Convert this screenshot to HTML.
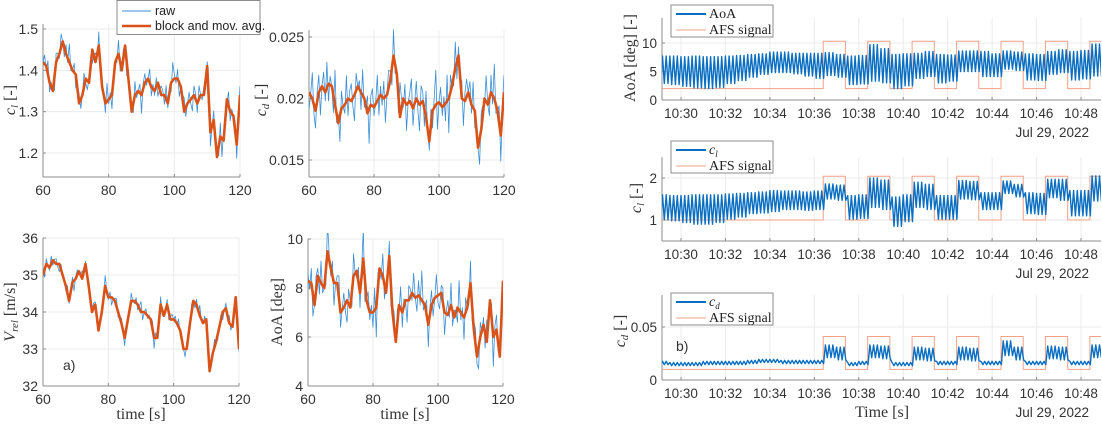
<!DOCTYPE html>
<html><head><meta charset="utf-8">
<style>
html,body{margin:0;padding:0;background:#fff;}
svg{display:block;}
.tk{font-family:"Liberation Sans",sans-serif;font-size:14px;fill:#333;}
.tkr{font-family:"Liberation Sans",sans-serif;font-size:13.5px;fill:#333;}
.lx{font-family:"Liberation Serif",serif;font-size:16px;fill:#333;}
.lg{font-family:"Liberation Serif",serif;font-size:14px;fill:#222;}
.lgs{font-family:"Liberation Sans",sans-serif;font-size:12.5px;fill:#222;}
</style></head>
<body>
<svg id="fig" width="1102" height="426" viewBox="0 0 1102 426" xmlns="http://www.w3.org/2000/svg"></svg>
<script>
// ---------- panel a) data (t = 60..120 s, 1 s steps) ----------
const timeA = [60,61,62,63,64,65,66,67,68,69,70,71,72,73,74,75,76,77,78,79,80,81,82,83,84,85,86,87,88,89,90,91,92,93,94,95,96,97,98,99,100,101,102,103,104,105,106,107,108,109,110,111,112,113,114,115,116,117,118,119,120];
const clAvg = [1.42,1.41,1.37,1.35,1.42,1.44,1.47,1.44,1.42,1.40,1.39,1.32,1.34,1.38,1.37,1.45,1.42,1.46,1.36,1.32,1.33,1.34,1.42,1.44,1.40,1.46,1.38,1.30,1.34,1.35,1.34,1.37,1.38,1.36,1.35,1.37,1.34,1.34,1.32,1.37,1.38,1.38,1.36,1.30,1.32,1.33,1.34,1.32,1.34,1.34,1.41,1.25,1.28,1.19,1.24,1.23,1.33,1.30,1.29,1.22,1.34];
const cdAvg = [0.0205,0.0200,0.0190,0.0205,0.0210,0.0205,0.0212,0.0210,0.0195,0.0180,0.0192,0.0195,0.0200,0.0198,0.0203,0.0210,0.0205,0.0200,0.0188,0.0195,0.0193,0.0198,0.0203,0.0200,0.0203,0.0215,0.0235,0.0220,0.0185,0.0200,0.0195,0.0198,0.0192,0.0200,0.0195,0.0198,0.0185,0.0165,0.0190,0.0195,0.0197,0.0193,0.0196,0.0200,0.0210,0.0225,0.0235,0.0200,0.0198,0.0205,0.0195,0.0190,0.0160,0.0175,0.0200,0.0195,0.0205,0.0200,0.0190,0.0170,0.0205];
const vrelAvg = [35.0,35.3,35.2,35.4,35.3,35.3,35.0,34.7,34.3,34.8,34.9,35.1,34.9,35.3,34.7,34.0,34.2,33.5,34.0,34.7,34.4,34.4,34.3,34.0,33.7,33.3,33.8,34.3,34.3,34.2,34.0,34.0,33.9,33.8,33.3,33.3,34.2,33.9,34.2,33.8,33.8,33.7,33.5,33.0,33.0,33.7,34.3,34.2,33.9,33.7,33.8,32.4,32.9,33.2,33.6,34.0,34.1,33.7,33.6,34.4,33.0];
const aoaAvg = [8.3,8.2,7.3,8.5,8.2,8.0,9.5,8.8,8.2,8.2,7.0,7.2,7.5,7.2,8.5,8.7,7.8,9.2,7.5,7.0,7.0,7.2,8.8,8.5,7.8,9.3,7.0,5.8,7.3,7.0,7.5,7.5,7.8,7.6,7.7,7.5,7.3,6.5,7.3,7.6,7.7,7.8,7.0,6.9,7.3,6.8,7.2,7.0,6.8,7.2,8.2,6.3,5.2,6.0,6.5,5.8,7.5,6.0,6.3,5.2,8.3];
// raw-minus-average deviations (0.5 s steps), in panel units
const rawDev = [0,2,-1,3,-2,1,0,-3,2,1,-1,3,0,-2,2,-1,4,-1,0,2,-3,1,2,-2,0,3,-1,-2,1,2,-3,0,2,-1,3,-2,1,0,-2,4,-1,1,-3,2,0,-1,3,-2,1,2,-1,-3,2,0,1,-2,3,-1,0,2,-4,1,2,-1,0,3,-2,1,-1,2,-3,0,2,1,-2,3,-1,0,-2,4,1,-1,2,-3,0,1,3,-2,0,2,-1,-3,2,1,-2,3,0,-1,2,-2,1,4,-3,0,2,-1,1,-2,3,-4,2,0,-1,3,-2,1,0,2,-3,1,2];

// ---------- panel b) data (minutes after 10:00, 30 s segments from 10:29) ----------
const segStart = 29.0;
const aoaMean = [5.3,5.2,5.0,4.9,4.8,4.9,5.3,5.6,6.0,6.3,6.6,6.6,6.4,6.2,6.0,6.3,6.0,5.2,5.3,6.5,6.0,5.0,5.3,6.0,6.3,5.5,5.6,6.8,6.8,6.3,6.1,7.0,6.8,5.8,5.7,6.5,6.8,6.0,6.2,7.0];
const aoaAmp = [2.4,2.5,2.6,2.8,2.8,2.7,2.4,2.2,2.0,1.8,1.8,1.8,1.8,2.0,2.2,2.0,2.0,2.5,2.5,3.2,3.0,3.0,2.8,2.2,2.2,2.5,2.3,1.8,1.8,2.2,2.0,1.6,1.6,2.3,2.3,2.0,2.0,2.5,2.5,2.8];
const clMean = [1.30,1.28,1.26,1.25,1.25,1.27,1.32,1.35,1.40,1.42,1.45,1.47,1.47,1.45,1.47,1.68,1.65,1.30,1.32,1.65,1.60,1.20,1.28,1.60,1.55,1.30,1.30,1.72,1.70,1.45,1.45,1.78,1.70,1.40,1.38,1.75,1.72,1.40,1.40,1.75];
const clAmp = [0.30,0.30,0.32,0.35,0.35,0.33,0.30,0.28,0.25,0.25,0.25,0.22,0.22,0.22,0.22,0.18,0.18,0.28,0.28,0.35,0.35,0.35,0.32,0.30,0.30,0.28,0.28,0.22,0.22,0.20,0.20,0.15,0.15,0.25,0.25,0.22,0.25,0.30,0.30,0.30];
const cdMean = [0.016,0.015,0.015,0.015,0.016,0.016,0.016,0.016,0.017,0.018,0.018,0.017,0.017,0.017,0.017,0.027,0.025,0.015,0.016,0.027,0.026,0.015,0.015,0.025,0.024,0.016,0.016,0.025,0.024,0.016,0.016,0.030,0.025,0.016,0.016,0.026,0.025,0.016,0.016,0.027];
const cdAmp = [0.0015,0.0015,0.0015,0.0015,0.0015,0.0015,0.0015,0.0015,0.0015,0.0015,0.0015,0.0015,0.0015,0.0015,0.0015,0.006,0.006,0.0015,0.0015,0.006,0.006,0.0015,0.0015,0.006,0.006,0.0015,0.0015,0.006,0.006,0.0015,0.0015,0.007,0.006,0.0015,0.0015,0.006,0.006,0.0015,0.0015,0.006];
const afsOn = [36.4,38.4,40.4,42.4,44.4,46.4,48.4];
const afsOff = [37.4,39.4,41.4,43.4,45.4,47.4,49.0];
const timeTicks = [30,32,34,36,38,40,42,44,46,48];
const timeTickLabels = ["10:30","10:32","10:34","10:36","10:38","10:40","10:42","10:44","10:46","10:48"];

const NS = "http://www.w3.org/2000/svg";
const fig = document.getElementById('fig');
function mk(tag, attrs, parent){const e=document.createElementNS(NS,tag);for(const k in attrs)e.setAttribute(k,attrs[k]);(parent||fig).appendChild(e);return e;}
function lin(d0,d1,r0,r1){return v=>r0+(v-d0)*(r1-r0)/(d1-d0);}

let clipN=0;
function axes(name, x0,x1,yTop,yBot, xs, ys, xticks, xlabels, yticks, ylabels, cls){
  const g = mk('g',{});
  
  
  xticks.forEach(t=>{const l=mk('line',{x1:xs(t),x2:xs(t),y1:yTop,y2:yBot,stroke:'#ebebeb','stroke-width':1},g);
    
    });
  yticks.forEach(t=>{const l=mk('line',{x1:x0,x2:x1,y1:ys(t),y2:ys(t),stroke:'#ebebeb','stroke-width':1},g);
    
    });
  const ax=mk('line',{x1:x0,x2:x1,y1:yBot,y2:yBot,stroke:'#8c8c8c','stroke-width':1},g);
  
  
  const ay=mk('line',{x1:x0,x2:x0,y1:yTop,y2:yBot,stroke:'#8c8c8c','stroke-width':1},g);
  
  
  xticks.forEach((t,i)=>{
    mk('line',{x1:xs(t),x2:xs(t),y1:yBot,y2:yBot-3,stroke:'#8c8c8c'},g);
    const tx=mk('text',{x:xs(t),y:yBot+18,'text-anchor':'middle',class:cls},g);
    tx.textContent=xlabels[i];
    
    
  });
  yticks.forEach((t,i)=>{
    mk('line',{x1:x0,x2:x0+3,y1:ys(t),y2:ys(t),stroke:'#8c8c8c'},g);
    const tx=mk('text',{x:x0-5,y:ys(t)+5,'text-anchor':'end',class:cls},g);
    tx.textContent=ylabels[i];
    
    
  });
  clipN++;
  const cp=mk('clipPath',{id:'c'+clipN});
  mk('rect',{x:x0,y:yTop-6,width:x1-x0,height:yBot-yTop+6},cp);
  return mk('g',{'clip-path':'url(#c'+clipN+')'},g);
}
function path(g,pts,stroke,w,name){
  const p=mk('path',{d:'M'+pts.map(p=>p[0].toFixed(1)+','+p[1].toFixed(1)).join('L'),fill:'none',stroke:stroke,'stroke-width':w,'stroke-linejoin':'round'},g);
  
  
  return p;
}
function ylabel(x,y,html,name){
  const t=mk('text',{x:0,y:0,transform:`translate(${x},${y}) rotate(-90)`,'text-anchor':'middle',class:'lx'});
  t.innerHTML=html;
  
  
}
function txt(x,y,s,cls,anchor,name,extra){
  const t=mk('text',Object.assign({x:x,y:y,class:cls,'text-anchor':anchor||'start'},extra||{}));
  t.innerHTML=s;
  
  
  return t;
}

// ---------- panel a) ----------
function panelA(name,x0,x1,yTop,yBot,v0,y0,v1,y1,yt,ytl,avg,unit,shift){
  const xs=lin(60,120,x0,x1), ys=lin(v0,v1,y0,y1);
  const g=axes(name,x0,x1,yTop,yBot,xs,ys,[60,80,100,120],["60","80","100","120"],yt,ytl,'tk');
  const raw=[];
  for(let i=0;i<timeA.length;i++){
    const d1=rawDev[(2*i+shift)%rawDev.length];
    raw.push([xs(timeA[i]),ys(avg[i]+d1*unit)]);
    if(i<timeA.length-1){
      const d2=rawDev[(2*i+1+shift)%rawDev.length];
      raw.push([xs(timeA[i]+0.5),ys((avg[i]+avg[i+1])/2+d2*unit)]);
    }
  }
  path(g,raw,'#3b8fd6',0.8,'raw-series');
  path(g,timeA.map((t,i)=>[xs(t),ys(avg[i])]),'#d95319',2.6,'avg-series');
}
panelA('cl-time-chart',43,240,24,177,1.5,29,1.2,153,[1.2,1.3,1.4,1.5],["1.2","1.3","1.4","1.5"],clAvg,0.011,0);
panelA('cd-time-chart',309,504,30,177,0.025,37,0.015,160,[0.015,0.02,0.025],["0.015","0.02","0.025"],cdAvg,0.0007,23);
panelA('vrel-time-chart',43,239,238,386,36,238,32,386,[32,33,34,35,36],["32","33","34","35","36"],vrelAvg,0.07,41);
panelA('aoa-time-chart',308,503,239,386,10,239,4,386,[4,6,8,10],["4","6","8","10"],aoaAvg,0.3,67);

ylabel(15,100,'<tspan font-style="italic">c</tspan><tspan font-style="italic" font-size="11" dy="3">l</tspan><tspan dy="-3"> [-]</tspan>','cl-y-axis-title');
ylabel(266,100,'<tspan font-style="italic">c</tspan><tspan font-style="italic" font-size="11" dy="3">d</tspan><tspan dy="-3"> [-]</tspan>','cd-y-axis-title');
ylabel(15,312,'<tspan font-style="italic">V</tspan><tspan font-style="italic" font-size="11" dy="3">rel</tspan><tspan dy="-3"> [m/s]</tspan>','vrel-y-axis-title');
ylabel(282,312,'AoA [deg]','aoa-y-axis-title');
txt(141,419,'time [s]','lx','middle','x-axis-title-left');
txt(405,419,'time [s]','lx','middle','x-axis-title-right');
txt(63,370,'a)','tk','start','panel-label-a',{'font-size':'18'});

// legend a
(function(){
  const g=mk('g',{});
  
  
  mk('rect',{x:117,y:0.5,width:143,height:34,fill:'#fff',stroke:'#8c8c8c','stroke-width':1},g);
  mk('line',{x1:122,x2:151,y1:11,y2:11,stroke:'#3b8fd6','stroke-width':1},g);
  mk('line',{x1:122,x2:151,y1:26,y2:26,stroke:'#d95319','stroke-width':2.6},g);
  const t1=mk('text',{x:155,y:15,class:'lgs'},g);t1.textContent='raw';
  const t2=mk('text',{x:155,y:30,class:'lgs'},g);t2.textContent='block and mov. avg.';
})();

// ---------- panel b) ----------
const xsB=lin(30,48,681,1081);
function panelB(name,yTop,yBot,v0,y0,v1,y1,yt,ytl,mean,amp,lo,hi,legTop,legLabel){
  const ys=lin(v0,v1,y0,y1);
  const g=axes(name,662,1101,yTop,yBot,xsB,ys,timeTicks,timeTickLabels,yt,ytl,'tkr');
  const afs=[[xsB(segStart),ys(lo)]];
  afsOn.forEach((on,i)=>{
    afs.push([xsB(on),ys(lo)],[xsB(on),ys(hi)],[xsB(afsOff[i]),ys(hi)],[xsB(afsOff[i]),ys(lo)]);
  });
  path(g,afs,'#f3a086',1,'afs-signal');
  const pts=[];
  const n=mean.length*6;
  for(let k=0;k<=n;k++){
    const s=Math.min(Math.floor(k/6),mean.length-1);
    const sign=(k%2===0)?1:-1;
    pts.push([xsB(segStart+k/12),ys(mean[s]+sign*amp[s])]);
  }
  path(g,pts,'#0a6fc2',1.4,'measured-signal');
  txt(1089,yBot+37,'Jul 29, 2022','tkr','end','date-label');
  const lg=mk('g',{});
  
  
  mk('rect',{x:671,y:legTop,width:102,height:32,fill:'#fff',stroke:'#8c8c8c'},lg);
  mk('line',{x1:676,x2:706,y1:legTop+9,y2:legTop+9,stroke:'#0a6fc2','stroke-width':2},lg);
  mk('line',{x1:676,x2:706,y1:legTop+25,y2:legTop+25,stroke:'#f3a086','stroke-width':1},lg);
  const a=mk('text',{x:709,y:legTop+13,class:'lg'},lg);a.innerHTML=legLabel;
  const b=mk('text',{x:709,y:legTop+29,class:'lg'},lg);b.textContent='AFS signal';
}
panelB('aoa-afs-chart',18,100,0,100,10,43,[0,5,10],["0","5","10"],aoaMean,aoaAmp,2,10.3,5,'AoA');
panelB('cl-afs-chart',157,241,1,220,2,178,[1,2],["1","2"],clMean,clAmp,1,2.04,141,'<tspan font-style="italic">c</tspan><tspan font-style="italic" font-size="9" dy="3">l</tspan>');
panelB('cd-afs-chart',295,380,0,380,0.05,327,[0,0.05],["0","0.05"],cdMean,cdAmp,0.01,0.041,293,'<tspan font-style="italic">c</tspan><tspan font-style="italic" font-size="9" dy="3">d</tspan>');

ylabel(635,58,'AoA [deg] [-]','aoa-afs-y-axis-title');
ylabel(641,198,'<tspan font-style="italic">c</tspan><tspan font-style="italic" font-size="11" dy="3">l</tspan><tspan dy="-3"> [-]</tspan>','cl-afs-y-axis-title');
ylabel(625,331,'<tspan font-style="italic">c</tspan><tspan font-style="italic" font-size="11" dy="3">d</tspan><tspan dy="-3"> [-]</tspan>','cd-afs-y-axis-title');
txt(882,417,'Time [s]','lx','middle','x-axis-title-b');
txt(676,351,'b)','tk','start','panel-label-b',{'font-size':'18'});
</script>
</body></html>
